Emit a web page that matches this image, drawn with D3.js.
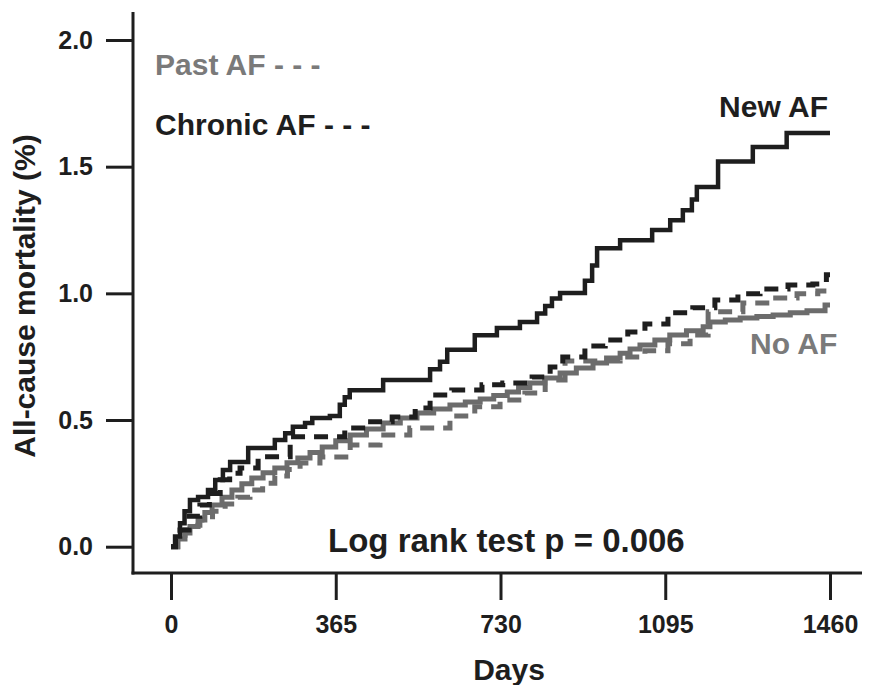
<!DOCTYPE html>
<html>
<head>
<meta charset="utf-8">
<script src="https://cdn.jsdelivr.net/npm/d3@7"></script>
<style>
  html, body { margin: 0; padding: 0; background: #ffffff; }
  svg { display: block; }
  text { font-family: "Liberation Sans", Arial, sans-serif; font-weight: bold; }
</style>
</head>
<body>
<svg id="chart" width="876" height="685"></svg>
<script>
// ---------- data ----------
const xTicks = [0, 365, 730, 1095, 1460];
const yTicks = [0.0, 0.5, 1.0, 1.5, 2.0];

const newAfDays = [0, 9, 20, 30, 42, 60, 82, 98, 115, 131, 171, 230, 253, 270, 297, 313, 352, 374, 385, 396, 470, 574, 596, 612, 673, 722, 773, 811, 829, 844, 862, 917, 933, 944, 995, 1066, 1106, 1134, 1154, 1165, 1212, 1289, 1364, 1460];
const newAfVals = [0, 0.04, 0.093, 0.14, 0.184, 0.196, 0.224, 0.263, 0.303, 0.334, 0.390, 0.421, 0.448, 0.473, 0.488, 0.508, 0.516, 0.56, 0.59, 0.618, 0.658, 0.70, 0.73, 0.777, 0.835, 0.863, 0.887, 0.92, 0.95, 0.98, 1.001, 1.05, 1.11, 1.178, 1.21, 1.25, 1.289, 1.328, 1.37, 1.42, 1.52, 1.578, 1.633, 1.633];

const chronicDays = [0, 10, 20, 40, 64, 85, 109, 130, 153, 193, 264, 385, 436, 490, 541, 574, 622, 689, 735, 800, 840, 868, 917, 962, 1012, 1050, 1101, 1156, 1205, 1256, 1305, 1367, 1422, 1452, 1460];
const chronicVals = [0, 0.03, 0.066, 0.12, 0.165, 0.21, 0.264, 0.29, 0.311, 0.355, 0.434, 0.469, 0.493, 0.512, 0.547, 0.599, 0.619, 0.639, 0.646, 0.670, 0.709, 0.749, 0.792, 0.816, 0.847, 0.879, 0.923, 0.943, 0.974, 0.998, 1.017, 1.033, 1.037, 1.073, 1.073];

const pastDays = [0, 15, 31, 48, 64, 92, 120, 148, 175, 203, 230, 258, 286, 330, 397, 463, 529, 618, 673, 729, 784, 829, 873, 995, 1050, 1101, 1150, 1190, 1267, 1320, 1387, 1433, 1460];
const pastVals = [0, 0.035, 0.066, 0.085, 0.105, 0.14, 0.169, 0.195, 0.224, 0.25, 0.279, 0.305, 0.330, 0.354, 0.401, 0.441, 0.469, 0.516, 0.552, 0.579, 0.607, 0.658, 0.733, 0.749, 0.773, 0.801, 0.836, 0.927, 0.962, 0.982, 0.998, 1.009, 1.009];

const noAfDays = [0, 15, 31, 42, 60, 75, 91, 113, 135, 157, 179, 204, 230, 257, 281, 308, 335, 365, 397, 433, 470, 508, 545, 582, 618, 652, 685, 715, 745, 770, 795, 828, 862, 898, 935, 965, 995, 1017, 1039, 1072, 1105, 1142, 1179, 1194, 1228, 1261, 1298, 1334, 1372, 1409, 1449, 1460];
const noAfVals = [0, 0.03, 0.054, 0.08, 0.105, 0.135, 0.165, 0.195, 0.224, 0.248, 0.271, 0.292, 0.311, 0.331, 0.350, 0.372, 0.394, 0.418, 0.441, 0.465, 0.488, 0.508, 0.528, 0.544, 0.559, 0.571, 0.583, 0.597, 0.611, 0.628, 0.646, 0.666, 0.686, 0.705, 0.725, 0.745, 0.764, 0.780, 0.796, 0.816, 0.836, 0.852, 0.868, 0.887, 0.895, 0.903, 0.909, 0.915, 0.923, 0.931, 0.954, 0.954];

// ---------- layout ----------
const svg = d3.select("#chart");
const axisX = 133, axisY = 573;
const x = d3.scaleLinear().domain([0, 1460]).range([171, 830]);
const y = d3.scaleLinear().domain([0, 2]).range([546.7, 40]);
const dark = "#1e1e1e", gray = "#6c6c6c", grayText = "#7a7a7a";

// axes
const gx = svg.append("g").attr("transform", `translate(0,${axisY})`)
  .call(d3.axisBottom(x).tickValues(xTicks).tickSize(27).tickPadding(15).tickFormat(d3.format("d")));
const gy = svg.append("g").attr("transform", `translate(${axisX},0)`)
  .call(d3.axisLeft(y).tickValues(yTicks).tickSize(27).tickPadding(13).tickFormat(d3.format(".1f")));
[gx, gy].forEach(g => {
  g.select(".domain").remove();
  g.selectAll(".tick line").attr("stroke", dark).attr("stroke-width", 3);
  g.selectAll(".tick text").attr("fill", dark).style("font-size", "25px")
    .style("font-family", "'Liberation Sans', Arial, sans-serif").style("font-weight", "bold");
});
svg.append("line").attr("x1", axisX).attr("x2", axisX).attr("y1", 12).attr("y2", axisY + 1.5)
  .attr("stroke", dark).attr("stroke-width", 3);
svg.append("line").attr("x1", axisX - 1.5).attr("x2", 862).attr("y1", axisY).attr("y2", axisY)
  .attr("stroke", dark).attr("stroke-width", 3);

// curves
const line = d3.line().x(d => x(d[0])).y(d => y(d[1])).curve(d3.curveStepAfter);
const zip = (a, b) => a.map((d, i) => [d, b[i]]);

svg.append("path").datum(zip(noAfDays, noAfVals)).attr("d", line)
  .attr("fill", "none").attr("stroke", gray).attr("stroke-width", 5);
svg.append("path").datum(zip(pastDays, pastVals)).attr("d", line)
  .attr("fill", "none").attr("stroke", gray).attr("stroke-width", 5).attr("stroke-dasharray", "14,9");
svg.append("path").datum(zip(chronicDays, chronicVals)).attr("d", line)
  .attr("fill", "none").attr("stroke", dark).attr("stroke-width", 5).attr("stroke-dasharray", "14,9");
svg.append("path").datum(zip(newAfDays, newAfVals)).attr("d", line)
  .attr("fill", "none").attr("stroke", dark).attr("stroke-width", 4.5);

// labels
const txt = (s, px, py, size, fill, anchor) => svg.append("text").text(s)
  .attr("x", px).attr("y", py).attr("fill", fill).attr("text-anchor", anchor || "start")
  .style("font-size", size + "px");

txt("Past AF - - -", 155, 75, 30, grayText);
txt("Chronic AF - - -", 155, 135, 30, dark);
txt("New AF", 828, 117, 30, dark, "end");
txt("No AF", 750, 354, 30, grayText);
txt("Log rank test p = 0.006", 328, 552, 33, dark);
txt("Days", 509, 680, 30, dark, "middle");
svg.append("text").text("All-cause mortality (%)")
  .attr("transform", "translate(35,296) rotate(-90)")
  .attr("text-anchor", "middle").attr("fill", dark).style("font-size", "30px");
</script>
</body>
</html>
